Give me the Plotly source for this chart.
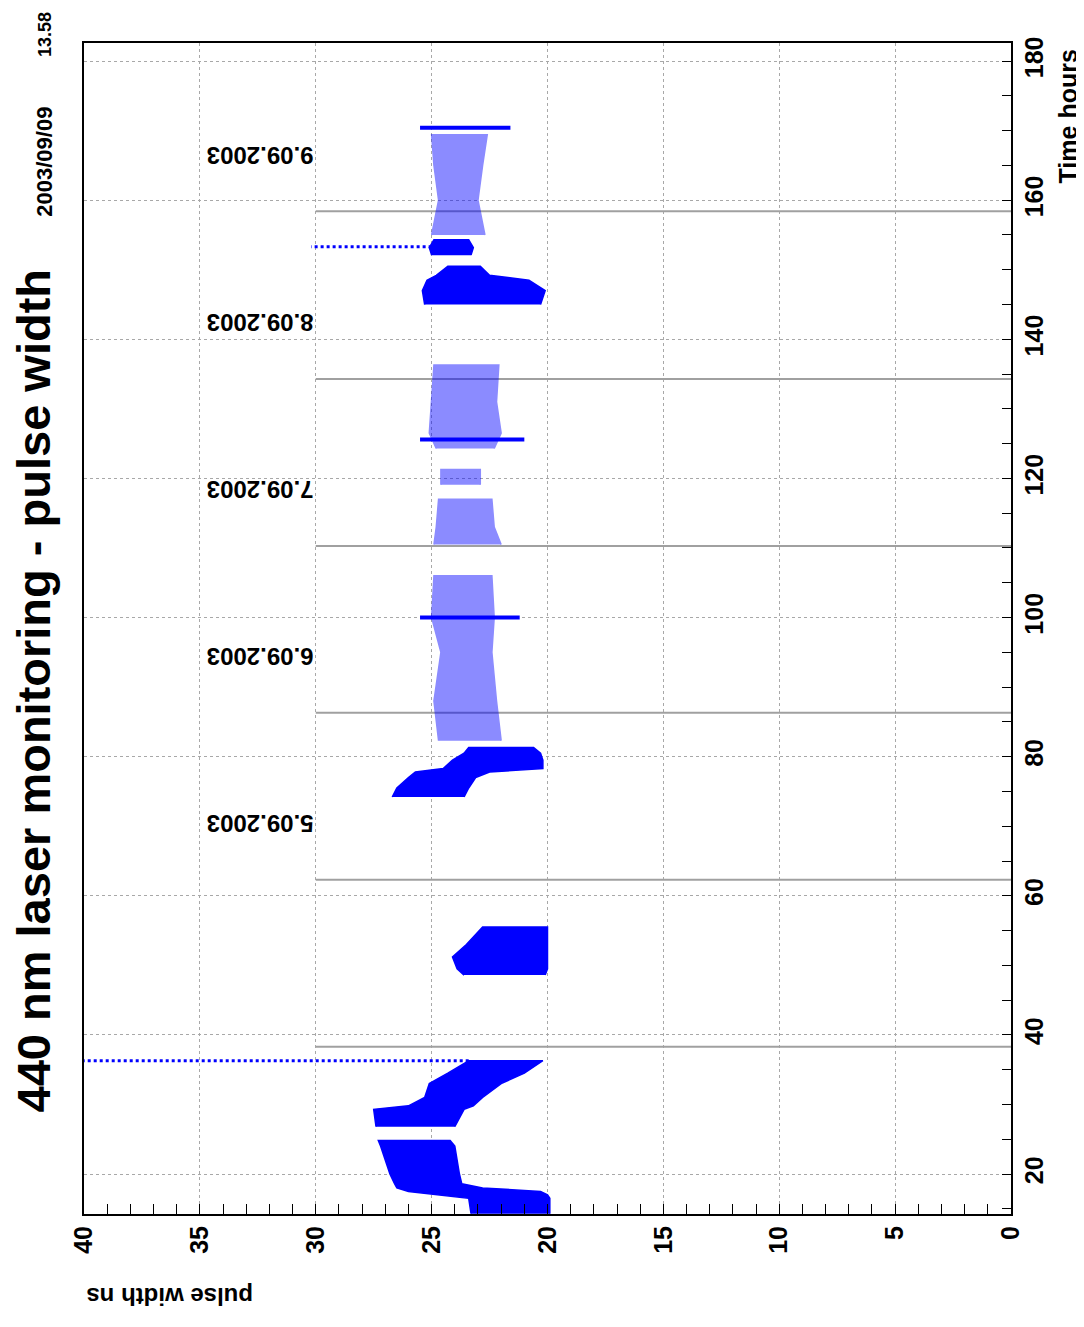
import plotly.graph_objects as go

# ---------------- data ----------------
# Dense clusters: time (hours) with lower / upper pulse width envelope (ns)
A_time = [14.3, 16.5, 17.0, 17.5, 18.0, 18.6, 20.0, 22.0, 24.0, 24.8]
A_lo   = [19.9, 19.9, 20.0, 20.3, 22.8, 23.7, 23.8, 23.9, 24.0, 24.2]
A_hi   = [23.3, 23.4, 24.8, 26.0, 26.5, 26.6, 26.8, 27.0, 27.2, 27.3]

A3_time = [26.8, 29.3, 29.8, 31.0, 33.0, 34.5, 36.3]
A3_lo   = [24.0, 23.6, 23.2, 22.8, 22.0, 21.0, 20.2]
A3_hi   = [27.4, 27.5, 26.0, 25.3, 25.1, 24.3, 23.4]

B_time = [48.6, 49.5, 51.2, 53.0, 55.5]
B_lo   = [20.1, 20.0, 20.0, 20.0, 20.0]
B_hi   = [23.6, 23.9, 24.1, 23.5, 22.8]

C_time = [74.2, 75.5, 77.0, 77.8, 78.3, 79.5, 80.5, 81.3]
C_lo   = [23.6, 23.4, 23.1, 22.5, 20.2, 20.2, 20.3, 20.6]
C_hi   = [26.7, 26.5, 26.0, 25.7, 24.5, 24.1, 23.6, 23.4]

F_time = [145.0, 147.0, 148.5, 149.2, 150.5]
F_lo   = [20.3, 20.1, 20.8, 22.5, 22.9]
F_hi   = [25.3, 25.4, 25.2, 24.8, 24.3]

G_time = [152.1, 153.2, 154.3]
G_lo   = [23.3, 23.2, 23.4]
G_hi   = [25.0, 25.1, 24.9]

# Sparse clusters
D_time = [82.3, 88.0, 95.0, 100.0, 106.0]
D_lo   = [22.0, 22.2, 22.4, 22.3, 22.4]
D_hi   = [24.7, 24.9, 24.6, 25.0, 24.9]

E1_time = [110.5, 113.0, 117.0]
E1_lo   = [22.0, 22.3, 22.4]
E1_hi   = [24.9, 24.8, 24.7]

E2_time = [119.1, 121.3]
E2_lo   = [22.9, 22.9]
E2_hi   = [24.6, 24.6]

E3_time = [124.3, 126.5, 131.0, 136.3]
E3_lo   = [22.3, 22.0, 22.2, 22.1]
E3_hi   = [24.8, 25.1, 25.0, 24.9]

H_time = [155.0, 160.0, 165.0, 169.4]
H_lo   = [22.7, 23.0, 22.8, 22.6]
H_hi   = [25.0, 24.7, 24.9, 25.0]

# Dense horizontal streaks: time, pulse-width start, end
streak_time = [100.0, 125.6, 170.4]
streak_lo   = [21.2, 21.0, 21.6]
streak_hi   = [25.5, 25.5, 25.5]

# Dotted outlier rows: time, pulse-width start, end
dots_time = [36.3, 153.3]
dots_lo   = [23.4, 25.0]
dots_hi   = [40.0, 30.2]

# Day boundaries (hours) and date labels
day_bounds = [38.3, 62.3, 86.3, 110.3, 134.3, 158.4]
day_line_pw = [30, 0]
date_label_time = [70.3, 94.4, 118.4, 142.4, 166.5]
date_labels = ["5.09.2003", "6.09.2003", "7.09.2003", "8.09.2003", "9.09.2003"]
date_label_pw = 30

title_text = "440 nm laser monitoring - pulse width"
stamp_date = "2003/09/09"
stamp_time = "13.58"

# ---------------- figure ----------------
BLUE = "#0000ff"
FONT = "Liberation Sans"
fig = go.Figure()

for t in day_bounds:
    fig.add_trace(go.Scatter(x=day_line_pw, y=[t, t], mode="lines",
                             line=dict(color="#a0a0a0", width=2),
                             hoverinfo="skip", showlegend=False))


def envelope(times, lo, hi, color, opacity):
    xs = list(lo) + list(hi)[::-1]
    ys = list(times) + list(times)[::-1]
    fig.add_trace(go.Scatter(x=xs, y=ys, mode="lines", fill="toself",
                             fillcolor=color, opacity=opacity,
                             line=dict(color=color, width=1.5),
                             hoverinfo="skip", showlegend=False))


for (tt, lo, hi) in [(A_time, A_lo, A_hi), (A3_time, A3_lo, A3_hi),
                     (B_time, B_lo, B_hi), (C_time, C_lo, C_hi),
                     (F_time, F_lo, F_hi), (G_time, G_lo, G_hi)]:
    envelope(tt, lo, hi, BLUE, 1.0)

for (tt, lo, hi) in [(D_time, D_lo, D_hi), (E1_time, E1_lo, E1_hi),
                     (E2_time, E2_lo, E2_hi), (E3_time, E3_lo, E3_hi),
                     (H_time, H_lo, H_hi)]:
    envelope(tt, lo, hi, BLUE, 0.45)

for t, lo, hi in zip(streak_time, streak_lo, streak_hi):
    fig.add_trace(go.Scatter(x=[lo, hi], y=[t, t], mode="lines",
                             line=dict(color=BLUE, width=4),
                             hoverinfo="skip", showlegend=False))

for t, lo, hi in zip(dots_time, dots_lo, dots_hi):
    fig.add_trace(go.Scatter(x=[lo, hi], y=[t, t], mode="lines",
                             line=dict(color=BLUE, width=3, dash="dot"),
                             hoverinfo="skip", showlegend=False))

axis_font = dict(family=FONT, size=25, color="black", weight="bold")

fig.update_xaxes(range=[40, 0], tick0=0, dtick=5, ticks="inside", ticklen=10,
                 tickcolor="black", tickwidth=1, tickangle=-90,
                 tickfont=axis_font,
                 minor=dict(dtick=1, ticks="inside", ticklen=10,
                            tickcolor="black", showgrid=False),
                 showgrid=True, gridcolor="#a8a8a8", griddash="dot", gridwidth=1,
                 showline=True, linecolor="black", linewidth=2, mirror=True,
                 zeroline=False)
fig.update_yaxes(range=[14.25, 182.6], side="right", tick0=0, dtick=20,
                 ticks="inside", ticklen=9, tickcolor="black", tickangle=-90,
                 tickfont=axis_font,
                 minor=dict(dtick=5, ticks="inside", ticklen=9,
                            tickcolor="black", showgrid=False),
                 showgrid=True, gridcolor="#a8a8a8", griddash="dot", gridwidth=1,
                 showline=True, linecolor="black", linewidth=2, mirror=True,
                 zeroline=False)

annotations = []
for t, lab in zip(date_label_time, date_labels):
    annotations.append(dict(x=date_label_pw, y=t, xref="x", yref="y", text=lab,
                            textangle=180, showarrow=False, xanchor="right",
                            yanchor="middle",
                            font=dict(family=FONT, size=24, color="black",
                                      weight="bold")))

annotations += [
    dict(x=-0.055, y=0.085, xref="paper", yref="paper", text=title_text,
         textangle=-90, showarrow=False, xanchor="center", yanchor="bottom",
         font=dict(family=FONT, size=47, color="black", weight="bold")),
    dict(x=-0.042, y=0.850, xref="paper", yref="paper", text=stamp_date,
         textangle=-90, showarrow=False, xanchor="center", yanchor="bottom",
         font=dict(family=FONT, size=22, color="black", weight="bold")),
    dict(x=-0.042, y=0.986, xref="paper", yref="paper", text=stamp_time,
         textangle=-90, showarrow=False, xanchor="center", yanchor="bottom",
         font=dict(family=FONT, size=18, color="black", weight="bold")),
    dict(x=1.062, y=0.9966, xref="paper", yref="paper", text="Time hours",
         textangle=-90, showarrow=False, xanchor="center", yanchor="top",
         font=dict(family=FONT, size=25, color="black", weight="bold")),
    dict(x=0.0, y=-0.0709, xref="paper", yref="paper", text="pulse width ns",
         textangle=180, showarrow=False, xanchor="left", yanchor="middle",
         font=dict(family=FONT, size=24, color="black", weight="bold")),
]

# The page adds an 8 px body margin, so the figure is 8 px smaller and
# the left/top margins are reduced accordingly.
fig.update_layout(width=1076, height=1319,
                  margin=dict(l=76, r=73, t=35, b=113, autoexpand=False),
                  plot_bgcolor="white", paper_bgcolor="white",
                  showlegend=False, annotations=annotations)

fig.write_html("out.html")
